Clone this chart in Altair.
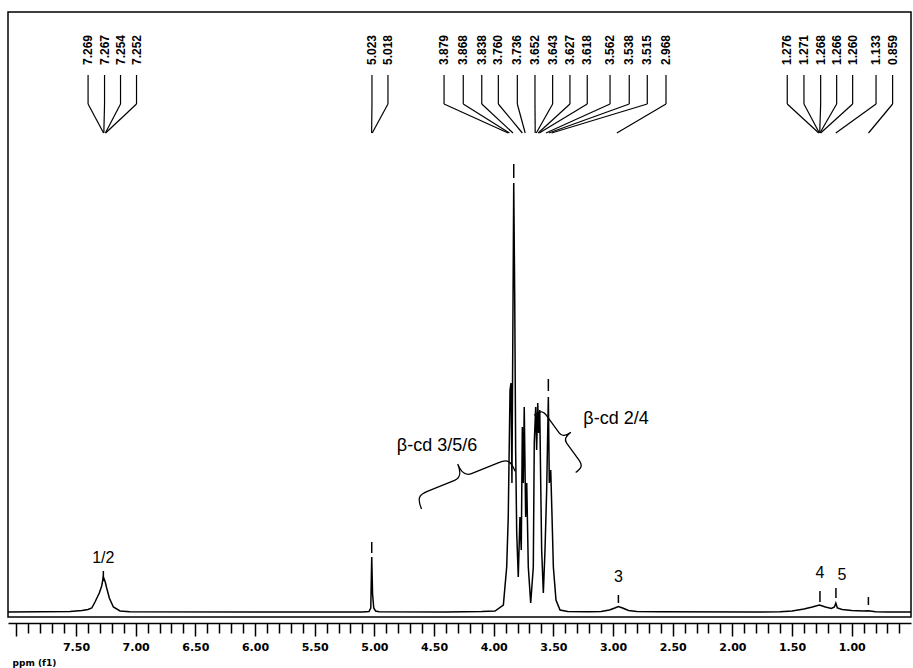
import altair as alt
import pandas as pd

# ---------------- data ----------------
spec_ppm = [8.07, 7.55, 7.45, 7.40, 7.368, 7.341, 7.305, 7.285, 7.271, 7.255, 7.243, 7.221, 7.187,
            7.131, 7.05, 6.00, 5.10, 5.045, 5.03, 5.022, 5.015, 5.005, 4.99, 4.96, 4.40, 4.10,
            3.989, 3.919, 3.891, 3.878, 3.863, 3.855, 3.847, 3.832, 3.824, 3.816, 3.807, 3.794,
            3.780, 3.769, 3.760, 3.752, 3.744, 3.732, 3.723, 3.710, 3.690, 3.668, 3.660, 3.648,
            3.640, 3.631, 3.623, 3.614, 3.606, 3.598, 3.584, 3.570, 3.556, 3.542, 3.534, 3.522,
            3.511, 3.500, 3.478, 3.444, 3.38, 3.20, 3.10, 3.03, 2.985, 2.955, 2.92, 2.87, 2.80,
            2.60, 1.80, 1.60, 1.50, 1.40, 1.33, 1.27, 1.22, 1.17, 1.145, 1.133, 1.12, 1.08, 1.00,
            0.90, 0.86, 0.80, 0.70, 0.503]
spec_int = [0, 0.5, 1.5, 2.5, 4, 10, 19, 26, 35, 30, 24, 14, 5,
            1, 0.3, 0, 0, 0.5, 4, 55, 18, 4, 1, 0.3, 0, 0.5,
            1, 7, 45, 95, 222, 229, 129, 429, 319, 162, 79, 35,
            95, 62, 185, 129, 205, 95, 129, 45, 9, 45, 169, 205,
            162, 209, 179, 202, 129, 62, 19, 62, 122, 215, 129, 142,
            95, 45, 12, 2, 0.5, 0.3, 0.5, 2, 4, 5.5, 4, 1.5, 0.5,
            0.2, 0, 0.3, 1, 3, 5, 7, 5, 3.5, 5, 9, 4, 2.5, 1.5,
            1, 1.2, 0.3, 0, 0]

pick_text = ["7.269", "7.267", "7.254", "7.252", "5.023", "5.018",
             "3.879", "3.868", "3.838", "3.760", "3.736", "3.652", "3.643", "3.627", "3.618",
             "3.562", "3.538", "3.515", "2.968",
             "1.276", "1.271", "1.268", "1.266", "1.260", "1.133", "0.859"]
pick_peak = [7.269, 7.267, 7.254, 7.252, 5.023, 5.018,
             3.879, 3.868, 3.838, 3.760, 3.736, 3.652, 3.643, 3.627, 3.618,
             3.562, 3.538, 3.515, 2.968,
             1.276, 1.271, 1.268, 1.266, 1.260, 1.133, 0.859]
pick_slot = [7.399, 7.261, 7.127, 6.993, 5.020, 4.886,
             4.416, 4.255, 4.100, 3.961, 3.802, 3.654, 3.506, 3.361, 3.216,
             3.025, 2.864, 2.713, 2.556,
             1.540, 1.400, 1.260, 1.126, 0.992, 0.796, 0.657]

ann_text = ["1/2", "3", "4", "5"]
ann_ppm = [7.271, 2.955, 1.266, 1.082]
ann_int = [54, 35, 39, 37]

dash_ppm = [7.271, 5.022, 3.832, 3.542, 2.955, 1.266, 1.132, 0.86]
dash_lo = [31, 59, 434, 221, 9, 10, 14, 7]
dash_hi = [41, 70, 448, 233, 17, 21, 24, 15]

group_text = ["β-cd 3/5/6", "β-cd 2/4"]
group_ppm = [4.475, 2.975]
group_int = [166, 193]

brace_ppm = [4.257, 3.42]
brace_int = [135, 174]

tick_values = [round(8.0 - 0.1 * i, 1) for i in range(75)]

# ---------------- chart ----------------
spec = pd.DataFrame({"ppm": spec_ppm, "intensity": spec_int, "order": range(len(spec_ppm))})
picks = pd.DataFrame({"ppm": pick_slot, "peak": pick_peak, "label": pick_text})
ann = pd.DataFrame({"ppm": ann_ppm, "intensity": ann_int, "label": ann_text})
dashes = pd.DataFrame({"ppm": dash_ppm, "intensity": dash_lo, "hi": dash_hi})
groups = pd.DataFrame({"ppm": group_ppm, "intensity": group_int, "label": group_text})

major = "abs(datum.value*2 - round(datum.value*2)) < 0.01"
xscale = alt.Scale(domain=[8.07, 0.503], nice=False, zero=False)
xaxis = alt.Axis(
    values=tick_values,
    title="ppm (f1)",
    titleAnchor="start", titleAlign="left", titleBaseline="middle",
    titleX=4, titleY=39, titleFont="DejaVu Sans", titleFontSize=9, titleFontWeight="bold",
    titleColor="black",
    offset=6, domainColor="black", domainWidth=1.5,
    tickColor="black", tickWidth=1.5,
    tickSize={"condition": {"test": major, "value": 13}, "value": 10},
    labelExpr=f"({major} && datum.value <= 7.51 && datum.value >= 0.99) ? format(datum.value, '.2f') : ''",
    labelFont="DejaVu Sans", labelFontSize=11, labelFontWeight="bold", labelColor="black",
    labelPadding=5, labelOverlap=False, grid=False,
)
X = alt.X("ppm:Q", scale=xscale, axis=xaxis)
yscale = alt.Scale(domain=[-5, 600], nice=False, zero=False)
Y = alt.Y("intensity:Q", scale=yscale, axis=None)

line = alt.Chart(spec).mark_line(color="black", strokeWidth=1.5).encode(
    x=X, y=Y, order="order:Q")

vert = alt.Chart(picks).mark_rule(color="black", strokeWidth=1.2).encode(
    x=X, y=alt.value(63), y2=alt.value(92))
diag = alt.Chart(picks).mark_rule(color="black", strokeWidth=1.2).encode(
    x=X, x2="peak:Q", y=alt.value(92), y2=alt.value(121))
pick_lbl = alt.Chart(picks).mark_text(
    angle=270, align="left", baseline="middle", font="Liberation Sans",
    fontSize=12, fontWeight="bold", color="black").encode(
    x=X, y=alt.value(53), text="label:N")

dash = alt.Chart(dashes).mark_rule(color="black", strokeWidth=1.5).encode(
    x=X, y=Y, y2="hi:Q")
ann_lbl = alt.Chart(ann).mark_text(
    font="Liberation Sans", fontSize=16, color="black", baseline="middle").encode(
    x=X, y=Y, text="label:N")
grp_lbl = alt.Chart(groups).mark_text(
    font="Liberation Sans", fontSize=18, color="black", baseline="middle").encode(
    x=X, y=Y, text="label:N")

brace_path = ("M -1 0.28 C -1 0.05 -0.95 0 -0.75 0 L -0.18 0 C -0.05 0 0 -0.1 0 -0.28 "
              "C 0 -0.1 0.05 0 0.18 0 L 0.75 0 C 0.95 0 1 0.05 1 0.28")
b1 = alt.Chart(pd.DataFrame({"ppm": [brace_ppm[0]], "intensity": [brace_int[0]]})).mark_point(
    shape=brace_path, filled=False, color="black", strokeWidth=1.3, opacity=1,
    angle=338, size=10200).encode(x=X, y=Y)
b2 = alt.Chart(pd.DataFrame({"ppm": [brace_ppm[1]], "intensity": [brace_int[1]]})).mark_point(
    shape=brace_path, filled=False, color="black", strokeWidth=1.3, opacity=1,
    angle=54, size=5000).encode(x=X, y=Y)

chart = alt.layer(line, vert, diag, pick_lbl, dash, ann_lbl, grp_lbl, b1, b2).properties(
    width=903, height=605,
    padding={"left": 8, "top": 12, "right": 2, "bottom": 51},
    autosize=alt.AutoSizeParams(type="none"),
    background="white",
).configure_view(stroke="black", strokeWidth=1.5)

chart.save("out.html", embed_options={"renderer": "svg", "actions": False})
